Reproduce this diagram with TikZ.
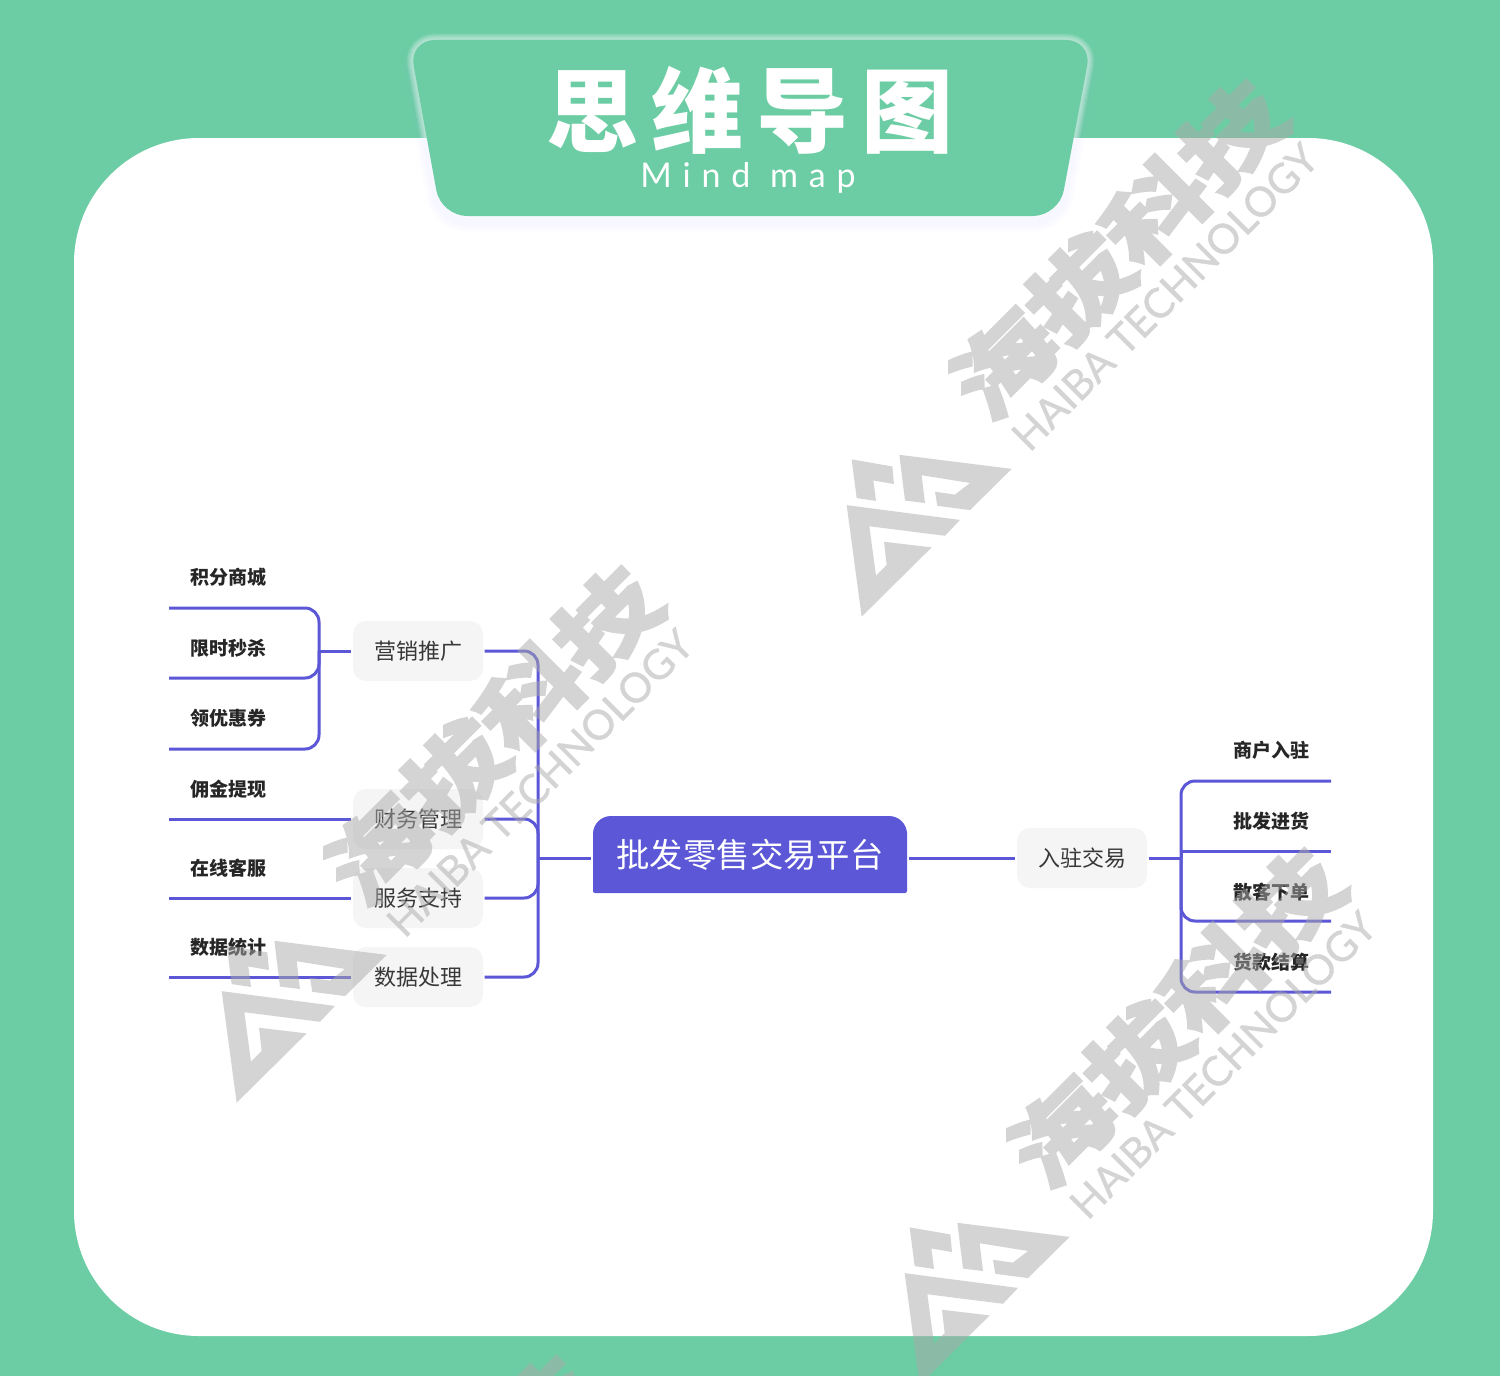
\documentclass[tikz,border=0pt]{standalone}
\usepackage{graphicx}
\usepackage{fontspec}
\setmainfont{Noto Sans CJK SC}
\newfontfamily\latinfont[LetterSpace=32]{Lato}
\newfontfamily\wmlatin[FakeBold=1]{Lato}
\newfontfamily\wmcn[FakeBold=4.5]{Noto Sans CJK SC Bold}
\usetikzlibrary{calc}
\definecolor{bggreen}{RGB}{108,205,164}
\definecolor{mapblue}{RGB}{91,87,214}
\definecolor{boxgrey}{RGB}{245,245,245}
\definecolor{wmgrey}{RGB}{170,170,170}
\newcommand{\fs}[1]{\fontsize{\dimexpr#1pt*14226/10000\relax}{\dimexpr#1pt*17/10\relax}\selectfont}
\tikzset{
  conn/.style={draw=mapblue,line width=0.15cm,line cap=butt,rounded corners=0.7cm},
  branchbox/.style={fill=boxgrey,rounded corners=0.65cm,minimum width=6.5cm,minimum height=3cm,inner sep=0pt,outer sep=0.08cm,text=black!78,font=\fs{22}},
  leaf/.style={inner sep=0pt,text=black!85,font=\fs{19}\bfseries},
  wmark/.style={fill=wmgrey,draw=none},
  wmtext/.style={text=wmgrey,inner sep=0pt,rotate=45},
}
\newcommand{\wmcopy}[2]{%
\begin{scope}[transparency group,opacity=0.5,shift={(#1,#2)}]
  \begin{scope}[shift={(820,76.4)},xscale=1/3,yscale=0.352]
   \fill[wmark] (95,1088)--(217,1108)--(222,1158)--(160,1148)--(168,1206)--(110,1198)--cycle;
   \fill[wmark] (238,1075)--(575,1115)--(450,1232)--(352,1220)--(345,1180)--(405,1188)--(450,1155)--(305,1133)--(315,1212)--(255,1205)--cycle;
   \fill[wmark] (80,1218)--(420,1260)--(375,1305)--(148,1278)--(168,1418)--(200,1388)--(192,1322)--(335,1338)--(125,1535)--cycle;
  \end{scope}
  \node[wmtext,font=\wmcn\fs{86}] (wmcn#1) at (1118,249) {\scalebox{1.25}[1]{海拔科技}};
  \node[wmtext,font=\wmlatin\fs{41}] (wmen#1) at (1165,297) {HAIBA TECHNOLOGY};
\end{scope}}
\begin{document}
\begin{tikzpicture}[x=0.05cm,y=-0.05cm]
\useasboundingbox (0,0) rectangle (1500,1376);
\begin{scope}
\clip (0,0) rectangle (1500,1376);
\fill[bggreen] (0,0) rectangle (1500,1376);
\fill[white,rounded corners=6.25cm] (74,138) rectangle (1433,1336);
% banner shadow and glow
\foreach \w in {1.0,0.8,0.6,0.4}{
  \draw[blue!30,line width=\w cm,opacity=0.025,rounded corners=1.3cm] (750,46) -- (1092,46) -- (1059,222) -- (441,222) -- (409,46) -- cycle;
}
\foreach \w in {0.65,0.55,0.45,0.35,0.25,0.15}{
  \draw[white,line width=\w cm,opacity=0.1,rounded corners=1.3cm] (750,40) -- (1092,40) -- (1059,216) -- (441,216) -- (409,40) -- cycle;
}
\fill[bggreen,rounded corners=1.3cm] (750,40) -- (1092,40) -- (1059,216) -- (441,216) -- (409,40) -- cycle;
\node[inner sep=0pt,text=white,font=\fs{92}\bfseries] (title) at (750,110) {思\hspace{0.14em}维\hspace{0.14em}导\hspace{0.14em}图};
\node[inner sep=0pt,text=white,font=\latinfont\fs{34}] (subtitle) at (748,178) {Mind map};

% root
\fill[mapblue,rounded corners=0.9cm] (593,850) -- (593,816) -- (907,816) -- (907,850) [rounded corners=0.1cm] -- (907,893) -- (593,893) -- cycle;
\node[inner sep=0pt,outer sep=0.1cm,minimum width=15.7cm,minimum height=3.85cm,text=white,font=\fs{33.4}] (root) at (750,855) {批发零售交易平台};
\coordinate (rootL) at (591,858);
\coordinate (rootR) at (909,858);

% branches
\node[branchbox] (b1) at (418,651) {营销推广};
\node[branchbox] (b2) at (418,819) {财务管理};
\node[branchbox] (b3) at (418,898) {服务支持};
\node[branchbox] (b4) at (418,977) {数据处理};
\node[branchbox] (b5) at (1082,858) {入驻交易};

% leaves
\node[leaf] (l1) at (228,577) {积分商城};
\node[leaf] (l2) at (228,648) {限时秒杀};
\node[leaf] (l3) at (228,718) {领优惠券};
\node[leaf] (l4) at (228,789) {佣金提现};
\node[leaf] (l5) at (228,868) {在线客服};
\node[leaf] (l6) at (228,947) {数据统计};
\node[leaf] (r1) at (1271,750) {商户入驻};
\node[leaf] (r2) at (1271,821) {批发进货};
\node[leaf] (r3) at (1271,892) {散客下单};
\node[leaf] (r4) at (1271,962) {货款结算};

% free ends
\coordinate (e1) at (169,608);
\coordinate (e2) at (169,678);
\coordinate (e3) at (169,749);
\coordinate (e4) at (169,819);
\coordinate (e5) at (169,898);
\coordinate (e6) at (169,977);
\coordinate (f1) at (1331,781);
\coordinate (f2) at (1331,851.5);
\coordinate (f3) at (1331,921);
\coordinate (f4) at (1331,992);
\coordinate (j1) at (319,651);
\coordinate (j2) at (538,858);
\coordinate (j3) at (1181,858);

% connectors
\draw[conn] (rootL) -- (j2);
\draw[conn] (j2) |- (b1.east);
\draw[conn] (j2) |- (b2.east);
\draw[conn] (j2) |- (b3.east);
\draw[conn] (j2) |- (b4.east);
\draw[conn] (b1.west) -- (j1);
\draw[conn] (j1) |- (e1);
\draw[conn] (j1) |- (e2);
\draw[conn] (j1) |- (e3);
\draw[conn] (b2.west) -- (e4);
\draw[conn] (b3.west) -- (e5);
\draw[conn] (b4.west) -- (e6);
\draw[conn] (rootR) -- (b5.west);
\draw[conn] (b5.east) -- (j3);
\draw[conn] (j3) |- (f1);
\draw[conn,rounded corners=0pt] (j3) |- (f2);
\draw[conn] (j3) |- (f3);
\draw[conn] (j3) |- (f4);

% watermarks
\wmcopy{0}{0}
\wmcopy{-625}{486}
\wmcopy{58}{768}
\wmcopy{-690}{1276}
\end{scope}
\end{tikzpicture}
\end{document}
